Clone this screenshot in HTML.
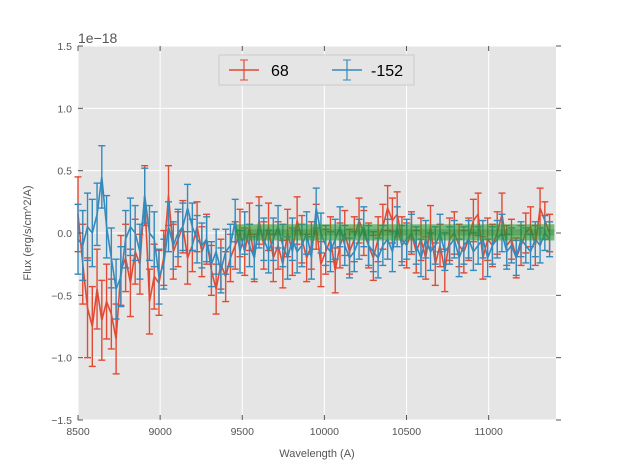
<!DOCTYPE html>
<html><head><meta charset="utf-8"><style>
body{margin:0;background:#fff;}
svg text{font-family:"Liberation Sans",sans-serif;}
</style></head><body>
<svg id="c" width="617" height="467" viewBox="0 0 617 467" xmlns="http://www.w3.org/2000/svg">
<rect x="78" y="46" width="478" height="374" fill="#e5e5e5"/>
<g id="grid"></g><g id="series"></g><g id="band"></g><g id="axes"></g>
<text x="78" y="43" font-size="14" fill="#555">1e−18</text>
<text x="317" y="457" font-size="11" fill="#555" text-anchor="middle">Wavelength (A)</text>
<text x="31" y="233" font-size="11" fill="#555" text-anchor="middle" transform="rotate(-90 31 233)">Flux (erg/s/cm^2/A)</text>
<g>
<rect x="219" y="55" width="195" height="30" fill="#e5e5e5" stroke="#ccc" stroke-width="1"/>
<g>
<line x1="229" y1="70" x2="259" y2="70" stroke="#e24a33" stroke-width="1.5"/>
<line x1="244" y1="60" x2="244" y2="80" stroke="#e24a33" stroke-width="1.2"/>
<line x1="240" y1="60" x2="248" y2="60" stroke="#e24a33"/><line x1="240" y1="80" x2="248" y2="80" stroke="#e24a33"/>
<text x="271" y="76" font-size="16" fill="#000">68</text></g>
<g>
<line x1="332" y1="70" x2="362" y2="70" stroke="#348abd" stroke-width="1.5"/>
<line x1="347" y1="60" x2="347" y2="80" stroke="#348abd" stroke-width="1.2"/>
<line x1="343" y1="60" x2="351" y2="60" stroke="#348abd"/><line x1="343" y1="80" x2="351" y2="80" stroke="#348abd"/>
<text x="371" y="76" font-size="16" fill="#000">-152</text></g>
</g>
</svg>
<script>
const xTicks=[8500,9000,9500,10000,10500,11000];
const yTicks=[-1.5,-1.0,-0.5,0.0,0.5,1.0,1.5];
const redVals=[0.15,-0.25,-0.6,-0.75,-0.45,-0.7,-0.55,-0.65,-0.85,-0.3,-0.2,-0.4,-0.15,-0.25,0.3,-0.55,-0.35,-0.4,-0.2,0.3,
-0.15,-0.05,0.05,-0.2,-0.1,0.05,-0.15,-0.05,-0.3,-0.45,-0.25,-0.35,-0.2,-0.1,0.0,-0.15,0.05,-0.2,0.1,-0.1,
0.05,-0.2,-0.1,-0.25,0.0,-0.15,0.1,-0.05,-0.2,-0.1,0.05,-0.25,-0.15,-0.05,-0.3,-0.1,0.0,-0.15,-0.05,0.1,
0.0,-0.1,-0.2,-0.05,0.05,0.2,0.1,0.15,-0.05,-0.1,0.0,-0.15,-0.05,-0.2,0.05,-0.25,-0.1,-0.3,-0.05,0.0,
-0.1,-0.15,-0.05,0.1,0.15,-0.2,-0.05,-0.1,0.0,0.15,-0.1,-0.05,-0.2,-0.1,0.0,0.05,-0.1,0.2,0.1,0.0];
const blueVals=[-0.05,-0.1,0.05,0.0,0.15,0.45,0.05,-0.2,-0.45,-0.35,-0.05,0.05,0.0,-0.15,0.3,0.0,-0.05,-0.35,-0.25,0.05,
-0.1,0.0,0.05,0.2,0.05,-0.05,-0.1,-0.05,-0.25,-0.15,-0.3,-0.15,-0.1,0.1,-0.15,0.0,-0.1,-0.2,0.05,-0.05,
-0.15,-0.05,0.05,-0.1,-0.2,-0.05,-0.15,-0.1,0.0,-0.2,0.2,0.0,-0.1,-0.15,-0.05,0.05,-0.1,-0.2,-0.15,-0.05,
0.05,-0.1,-0.15,-0.2,-0.1,-0.05,-0.15,0.05,-0.1,-0.05,0.0,-0.1,-0.2,-0.05,-0.15,-0.1,0.0,-0.15,-0.1,-0.05,
-0.2,-0.1,-0.05,-0.15,-0.1,-0.05,-0.2,-0.1,-0.05,0.0,-0.15,-0.1,-0.2,-0.05,-0.1,-0.15,-0.05,-0.1,0.0,-0.05];
const redErr=[0.3,0.32,0.4,0.32,0.32,0.32,0.3,0.28,0.28,0.28,0.27,0.27,0.26,0.24,0.24,0.26,0.26,0.26,0.22,0.24,
0.22,0.22,0.21,0.21,0.21,0.2,0.2,0.2,0.2,0.2,0.2,0.2,0.19,0.19,0.19,0.19,0.19,0.19,0.19,0.19,
0.19,0.19,0.19,0.19,0.19,0.19,0.19,0.19,0.19,0.19,0.18,0.18,0.18,0.18,0.18,0.18,0.18,0.18,0.18,0.18,
0.18,0.18,0.18,0.18,0.18,0.18,0.18,0.18,0.18,0.18,0.17,0.17,0.17,0.17,0.17,0.17,0.17,0.17,0.17,0.17,
0.17,0.17,0.17,0.17,0.17,0.17,0.17,0.17,0.17,0.17,0.16,0.16,0.16,0.16,0.16,0.16,0.16,0.16,0.15,0.15];
const blueErr=[0.28,0.28,0.27,0.27,0.25,0.25,0.25,0.24,0.24,0.24,0.23,0.23,0.22,0.22,0.22,0.22,0.22,0.22,0.2,0.2,
0.19,0.19,0.19,0.19,0.19,0.19,0.18,0.18,0.18,0.18,0.18,0.18,0.17,0.17,0.17,0.17,0.17,0.17,0.17,0.17,
0.17,0.17,0.17,0.17,0.17,0.17,0.17,0.17,0.17,0.17,0.16,0.16,0.16,0.16,0.16,0.16,0.16,0.16,0.16,0.16,
0.16,0.16,0.16,0.16,0.16,0.16,0.16,0.16,0.16,0.16,0.15,0.15,0.15,0.15,0.15,0.15,0.15,0.15,0.15,0.15,
0.15,0.15,0.15,0.15,0.15,0.15,0.15,0.15,0.15,0.15,0.14,0.14,0.14,0.14,0.14,0.14,0.14,0.14,0.14,0.14];
const wlStart=8500, wlStep=29;
const bandRange=[9460,11400];
const bandVals=[-0.06,0.07];

const X0=78,X1=556,Y0=46,Y1=420, xmin=8500,xmax=11410,ymin=-1.5,ymax=1.5;
const sx=v=>X0+(v-xmin)/(xmax-xmin)*(X1-X0);
const sy=v=>Y1-(v-ymin)/(ymax-ymin)*(Y1-Y0);
const NS='http://www.w3.org/2000/svg';
function mk(tag,attrs,parent){const e=document.createElementNS(NS,tag);for(const k in attrs)e.setAttribute(k,attrs[k]);parent.appendChild(e);return e;}
const grid=document.getElementById('grid'),axes=document.getElementById('axes'),ser=document.getElementById('series'),band=document.getElementById('band');
xTicks.forEach(t=>{
 const g=mk('line',{x1:sx(t),x2:sx(t),y1:Y0,y2:Y1,stroke:'#fff','stroke-width':1},grid);
 
 
 mk('line',{x1:sx(t),x2:sx(t),y1:Y1,y2:Y1-5,stroke:'#555'},axes);
 mk('line',{x1:sx(t),x2:sx(t),y1:Y0,y2:Y0+5,stroke:'#555'},axes);
 const l=mk('text',{x:sx(t),y:Y1+15,'font-size':10.5,fill:'#555','text-anchor':'middle'},axes);
 l.textContent=t;
 
 
});
yTicks.forEach(t=>{
 const g=mk('line',{x1:X0,x2:X1,y1:sy(t),y2:sy(t),stroke:'#fff','stroke-width':1},grid);
 
 
 mk('line',{x1:X0,x2:X0+5,y1:sy(t),y2:sy(t),stroke:'#555'},axes);
 mk('line',{x1:X1,x2:X1+5,y1:sy(t),y2:sy(t),stroke:'#555'},axes);
 const l=mk('text',{x:X0-6,y:sy(t)+4,'font-size':10.5,fill:'#555','text-anchor':'end'},axes);
 l.textContent=t.toFixed(1).replace('-','−');
 
 
});
function drawSeries(vals,errs,color,name){
 const g=mk('g',{},ser);
 
 
 let d='';
 vals.forEach((v,i)=>{
  const x=sx(wlStart+i*wlStep);
  d+=(i?'L':'M')+x.toFixed(1)+' '+sy(v).toFixed(1);
  const e=errs[i];
  mk('line',{x1:x,x2:x,y1:sy(v-e),y2:sy(v+e),stroke:color,'stroke-width':1.4},g);
  mk('line',{x1:x-3.5,x2:x+3.5,y1:sy(v-e),y2:sy(v-e),stroke:color,'stroke-width':1.4},g);
  mk('line',{x1:x-3.5,x2:x+3.5,y1:sy(v+e),y2:sy(v+e),stroke:color,'stroke-width':1.4},g);
 });
 mk('path',{d:d,fill:'none',stroke:color,'stroke-width':1.6},g);
}
drawSeries(redVals,redErr,'#e24a33','series-68');
drawSeries(blueVals,blueErr,'#348abd','series-minus152');
const b=mk('rect',{x:sx(bandRange[0]),y:sy(bandVals[1]),width:sx(bandRange[1])-sx(bandRange[0]),height:sy(bandVals[0])-sy(bandVals[1]),fill:'#2f9a2f','fill-opacity':0.6},band);


const bm=mk('rect',{x:sx(bandRange[0]),y:sy(0.03),width:sx(bandRange[1])-sx(bandRange[0]),height:sy(-0.02)-sy(0.03),fill:'#1e7a1e','fill-opacity':0.3},band);


</script>
</body></html>
